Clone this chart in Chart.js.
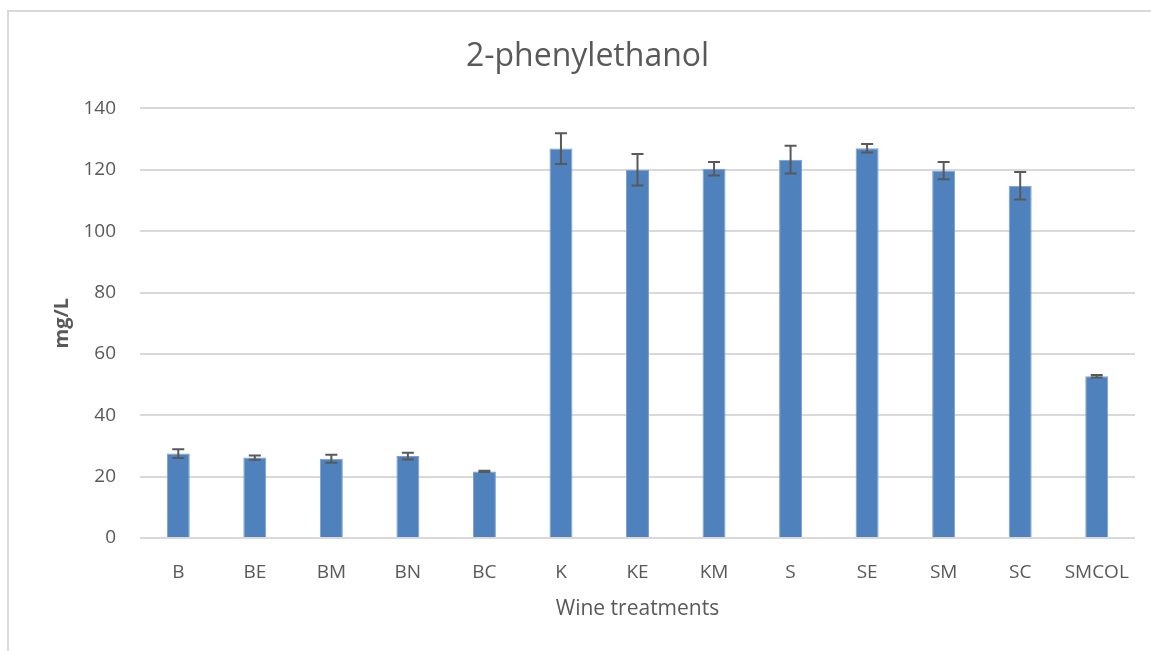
<!DOCTYPE html>
<html>
<head>
<meta charset="utf-8">
<script src="https://cdn.jsdelivr.net/npm/chart.js@4"></script>
<style>
    html, body { margin: 0; padding: 0; background: #fff; overflow: hidden; }
    #marco { position: absolute; left: 7px; top: 10px; width: 1170px; height: 700px; border: 2px solid #d9d9d9; }
    #lienzo { position: absolute; left: 0; top: 0; }
</style>
</head>
<body>
<div id="marco"></div>
<canvas id="lienzo" width="1151" height="651"></canvas>
<script>
const tratamientos = ['B', 'BE', 'BM', 'BN', 'BC', 'K', 'KE', 'KM', 'S', 'SE', 'SM', 'SC', 'SMCOL'];
const medias = [27.5, 26.2, 25.8, 26.7, 21.7, 126.9, 120.0, 120.3, 123.3, 127.0, 119.7, 114.8, 52.7];
const errores = [1.4, 0.7, 1.3, 1.1, 0.2, 5.0, 5.1, 2.2, 4.5, 1.4, 2.8, 4.5, 0.4];
const ejeY = { min: 0, max: 140, paso: 20 };

const gris = '#595959';
const fuente = '"Open Sans", sans-serif';

// barras de error dibujadas sobre cada barra
const barrasError = {
    id: 'barrasError',
    afterDatasetsDraw(chart) {
        const ctx = chart.ctx;
        const escalaY = chart.scales.y;
        const meta = chart.getDatasetMeta(0);
        ctx.save();
        ctx.strokeStyle = gris;
        ctx.lineWidth = 2;
        meta.data.forEach((barra, i) => {
            const arriba = escalaY.getPixelForValue(medias[i] + errores[i]);
            const abajo = escalaY.getPixelForValue(medias[i] - errores[i]);
            const x = barra.x;
            ctx.beginPath();
            ctx.moveTo(x, arriba);
            ctx.lineTo(x, abajo);
            ctx.moveTo(x - 6, arriba);
            ctx.lineTo(x + 6, arriba);
            ctx.moveTo(x - 6, abajo);
            ctx.lineTo(x + 6, abajo);
            ctx.stroke();
        });
        ctx.restore();
    }
};

new Chart(document.getElementById('lienzo'), {
    type: 'bar',
    data: {
        labels: tratamientos,
        datasets: [{
            label: '2-phenylethanol',
            data: medias,
            backgroundColor: '#4f81bd',
            borderColor: '#7a9fd0',
            borderWidth: 1,
            barPercentage: 0.3,
            categoryPercentage: 1
        }]
    },
    options: {
        responsive: false,
        animation: false,
        layout: {
            padding: { left: 40, right: 16, top: 0, bottom: 13 }
        },
        scales: {
            x: {
                grid: { display: false },
                border: { display: false },
                ticks: {
                    color: gris,
                    font: { family: fuente, size: 19 },
                    padding: 15,
                    maxRotation: 0
                },
                title: {
                    display: true,
                    text: 'Wine treatments',
                    color: gris,
                    font: { family: fuente, size: 21 },
                    padding: { top: 0, bottom: 16 }
                },
                afterFit(escala) { escala.height = 100; }
            },
            y: {
                min: ejeY.min,
                max: ejeY.max,
                grid: { color: '#d9d9d9', lineWidth: 2, drawTicks: false },
                border: { display: false },
                ticks: {
                    stepSize: ejeY.paso,
                    color: gris,
                    font: { family: fuente, size: 19 },
                    padding: 24
                },
                title: {
                    display: true,
                    text: 'mg/L',
                    color: gris,
                    font: { family: fuente, size: 20, weight: 'bold' },
                    padding: { top: 10, bottom: 0 }
                },
                afterFit(escala) { escala.width = 100; }
            }
        },
        plugins: {
            legend: { display: false },
            tooltip: { enabled: false },
            title: {
                display: true,
                text: '2-phenylethanol',
                color: gris,
                font: { family: fuente, size: 32, weight: 'normal' },
                padding: { top: 38, bottom: 32 }
            }
        }
    },
    plugins: [barrasError]
});
</script>
</body>
</html>
